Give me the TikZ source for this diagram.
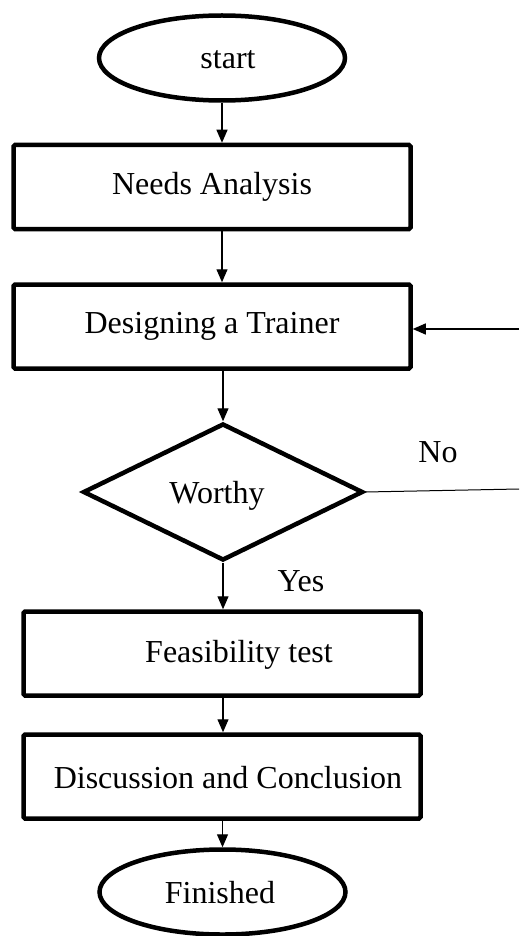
\documentclass[tikz,border=0pt]{standalone}
\usepackage{fontspec}
\setmainfont{Liberation Serif}
\usetikzlibrary{shapes.geometric,arrows.meta}
\begin{document}
\begin{tikzpicture}[x=1pt,y=-1pt,
  font=\fontsize{32}{38}\selectfont,
  boxnode/.style={draw,line width=4.5pt,rounded corners=1.5pt,minimum width=397pt,minimum height=84pt,inner sep=0pt},
  ovalnode/.style={draw,ellipse,line width=4.5pt,minimum width=246pt,minimum height=85pt,inner sep=0pt},
  decnode/.style={draw,diamond,line width=4.5pt,minimum width=280pt,minimum height=137pt,inner sep=0pt},
  conn/.style={line width=1.2pt,-{Triangle[length=13pt,width=11pt]}},
  plain/.style={line width=1pt}]
\useasboundingbox (0,0) rectangle (519,936);
\node[ovalnode] (start) at (222,58) {};
\node at (228,60) {start};
\node[boxnode] (needs) at (212,187) {Needs Analysis};
\node[boxnode] (design) at (212,326.5) {Designing a Trainer};
\node[decnode] (worthy) at (223,492) {};
\node (worthytxt) at (217,496) {Worthy};
\node[boxnode] (feas) at (222,653.5) {};
\node (feastxt) at (239,655) {Feasibility test};
\node[boxnode] (disc) at (222,776.5) {};
\node (disctxt) at (228,778) {Discussion and Conclusion};
\node[ovalnode] (fin) at (222.5,892) {};
\node (fintxt) at (220,893) {Finished};
\node (no) at (438,452) {No};
\node (yes) at (301,581) {Yes};
\coordinate (noend) at (519,489);
\coordinate (backin) at (519,329);
\draw[conn] (start.south) -- (needs.north -| start.south);
\draw[conn] (needs.south -| start.south) -- (design.north -| start.south);
\draw[conn] (design.south -| worthy.north) -- (worthy.north);
\draw[conn] (worthy.south) -- (feas.north -| worthy.south);
\draw[conn] (feas.south -| worthy.south) -- (disc.north -| worthy.south);
\draw[conn] (disc.south -| fin.north) -- (fin.north);
\draw[plain] (worthy.east) -- (noend);
\draw[conn] (backin) -- (design.east |- backin);
\end{tikzpicture}
\end{document}
